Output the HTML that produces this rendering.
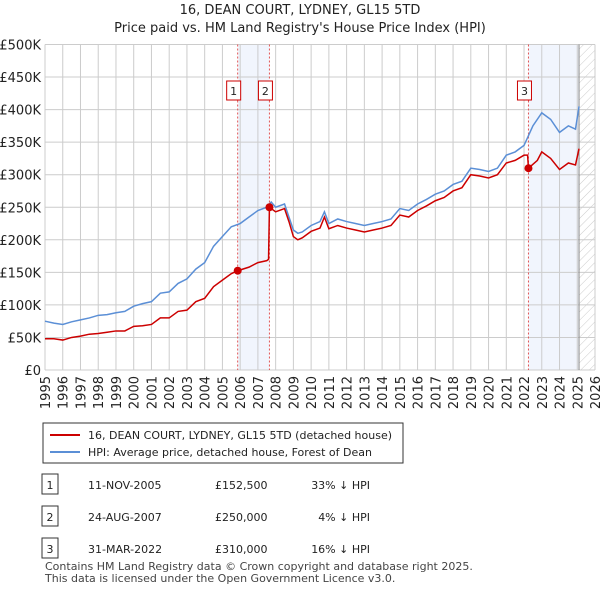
<!DOCTYPE html>
<html><head><meta charset="utf-8"><style>
body{margin:0;background:#fff;font-family:"Liberation Sans",sans-serif;}
svg text{font-family:"DejaVu Sans","Liberation Sans",sans-serif;}
</style></head><body>
<svg id="c" width="600" height="590" viewBox="0 0 600 590" xmlns="http://www.w3.org/2000/svg">
<text x="300" y="14" text-anchor="middle" font-size="13" fill="#222">16, DEAN COURT, LYDNEY, GL15 5TD</text>
<text x="300" y="32" text-anchor="middle" font-size="13" fill="#222">Price paid vs. HM Land Registry's House Price Index (HPI)</text>
<defs><pattern id="h" width="6" height="6" patternUnits="userSpaceOnUse" patternTransform="rotate(45)"><line x1="0" y1="0" x2="0" y2="6" stroke="#ccc" stroke-width="1"/></pattern></defs>
<g id="plot"></g>
<g>
<rect x="43" y="423" width="360" height="40" fill="#fff" stroke="#333" stroke-width="1"/>
<line x1="50" y1="435" x2="80" y2="435" stroke="#cc0000" stroke-width="2"/>
<text x="88" y="439" font-size="11" fill="#222">16, DEAN COURT, LYDNEY, GL15 5TD (detached house)</text>
<line x1="50" y1="452" x2="80" y2="452" stroke="#5b8fd6" stroke-width="2"/>
<text x="88" y="456" font-size="11" fill="#222">HPI: Average price, detached house, Forest of Dean</text>
</g>
<g id="tbl" font-size="11" fill="#222"></g>
<text x="45" y="570" font-size="11" fill="#444">Contains HM Land Registry data © Crown copyright and database right 2025.</text>
<text x="45" y="582" font-size="11" fill="#444">This data is licensed under the Open Government Licence v3.0.</text>
</svg>
<script>
const hpiYears=[1995,1995.5,1996,1996.5,1997,1997.5,1998,1998.5,1999,1999.5,2000,2000.5,2001,2001.5,2002,2002.5,2003,2003.5,2004,2004.5,2005,2005.5,2006,2006.5,2007,2007.5,2007.75,2008,2008.5,2008.75,2009,2009.25,2009.5,2010,2010.5,2010.75,2011,2011.5,2012,2012.5,2013,2013.5,2014,2014.5,2015,2015.5,2016,2016.5,2017,2017.5,2018,2018.5,2019,2019.5,2020,2020.5,2021,2021.5,2022,2022.5,2023,2023.5,2024,2024.5,2024.9,2025.1];
const hpiValues=[75,72,70,74,77,80,84,85,88,90,98,102,105,118,120,133,140,155,165,190,205,220,225,235,245,250,258,250,255,235,215,210,212,222,228,243,225,232,228,225,222,225,228,232,248,245,255,262,270,275,285,290,310,308,305,310,330,335,345,375,395,385,365,375,370,405];
const redYears=[1995,1995.5,1996,1996.5,1997,1997.5,1998,1998.5,1999,1999.5,2000,2000.5,2001,2001.5,2002,2002.5,2003,2003.5,2004,2004.5,2005,2005.5,2005.86,2006.5,2007,2007.5,2007.6,2007.65,2008,2008.5,2008.75,2009,2009.25,2009.5,2010,2010.5,2010.75,2011,2011.5,2012,2012.5,2013,2013.5,2014,2014.5,2015,2015.5,2016,2016.5,2017,2017.5,2018,2018.5,2019,2019.5,2020,2020.5,2021,2021.5,2022,2022.2,2022.25,2022.75,2023,2023.5,2024,2024.5,2024.9,2025.1];
const redValues=[48,48,46,50,52,55,56,58,60,60,67,68,70,80,80,90,92,105,110,128,138,148,152.5,158,165,168,170,250,243,248,228,205,200,203,213,218,235,217,222,218,215,212,215,218,222,238,235,245,252,260,265,275,280,300,298,295,300,318,322,330,330,310,322,335,325,308,318,315,340];
const saleYears=[2005.86,2007.65,2022.25];
const saleValues=[152.5,250,310];
const saleLabels=["1","2","3"];
const saleDates=["11-NOV-2005","24-AUG-2007","31-MAR-2022"];
const salePrices=["£152,500","£250,000","£310,000"];
const saleDiffs=["33% ↓ HPI","4% ↓ HPI","16% ↓ HPI"];
const yTicks=[0,50,100,150,200,250,300,350,400,450,500];
const yTickLabels=["£0","£50K","£100K","£150K","£200K","£250K","£300K","£350K","£400K","£450K","£500K"];
const xTicks=[1995,1996,1997,1998,1999,2000,2001,2002,2003,2004,2005,2006,2007,2008,2009,2010,2011,2012,2013,2014,2015,2016,2017,2018,2019,2020,2021,2022,2023,2024,2025,2026];
const X0=45,X1=595,Y0=370,Y1=44.5;
const xs=y=>X0+(y-1995)/(2026-1995)*(X1-X0);
const ys=v=>Y0-v/500*(Y0-Y1);
const NS="http://www.w3.org/2000/svg";
const plot=document.getElementById('plot');
function mk(t,a,p){const e=document.createElementNS(NS,t);for(const k in a)e.setAttribute(k,a[k]);(p||plot).appendChild(e);return e;}
let r=mk('rect',{x:xs(saleYears[0]),y:Y1,width:xs(saleYears[1])-xs(saleYears[0]),height:Y0-Y1,fill:'#eef3fc',opacity:0.8});


r=mk('rect',{x:xs(saleYears[2]),y:Y1,width:xs(2025.1)-xs(saleYears[2]),height:Y0-Y1,fill:'#eef3fc',opacity:0.8});


r=mk('rect',{x:xs(2025.1),y:Y1,width:X1-xs(2025.1),height:Y0-Y1,fill:'url(#h)'});


yTicks.forEach((v,i)=>{
 let l=mk('line',{x1:X0,x2:X1,y1:ys(v),y2:ys(v),stroke:'#ccc','stroke-width':1});
 
 
 let t=mk('text',{x:X0-4,y:ys(v)+5,'text-anchor':'end','font-size':13,fill:'#222'});
 t.textContent=yTickLabels[i];
 
 
});
xTicks.forEach(yr=>{
 let l=mk('line',{x1:xs(yr),x2:xs(yr),y1:Y1,y2:Y0,stroke:'#ccc','stroke-width':1});
 
 
 let t=mk('text',{x:0,y:0,'text-anchor':'end','font-size':13,fill:'#222',transform:`translate(${xs(yr)+5},${Y0+6}) rotate(-90)`});
 t.textContent=yr;
 
 
});
let ax=mk('line',{x1:xs(2025.1),x2:xs(2025.1),y1:Y1,y2:Y0,stroke:'#888','stroke-width':1});


saleYears.forEach((yr,i)=>{
 let l=mk('line',{x1:xs(yr),x2:xs(yr),y1:Y1,y2:Y0,stroke:'#e05555','stroke-width':1,'stroke-dasharray':'2,2'});
 
 
});
let p=mk('polyline',{points:hpiYears.map((y,i)=>xs(y)+','+ys(hpiValues[i])).join(' '),fill:'none',stroke:'#5b8fd6','stroke-width':1.5});


p=mk('polyline',{points:redYears.map((y,i)=>xs(y)+','+ys(redValues[i])).join(' '),fill:'none',stroke:'#cc0000','stroke-width':1.5});


saleYears.forEach((yr,i)=>{
 let c=mk('circle',{cx:xs(yr),cy:ys(saleValues[i]),r:4,fill:'#cc0000'});
 
 
 let bx=xs(yr)-(i==2?11:10)-(i==2?-2:0);
 let b=mk('rect',{x:xs(yr)-(i<2?3:0)-11+ (i==1?0:0),y:81,width:14,height:19,fill:'#fff',stroke:'#cc0000','stroke-width':1});
 if(i==0)b.setAttribute('x',xs(yr)-11);
 if(i==1)b.setAttribute('x',xs(yr)-11);
 if(i==2)b.setAttribute('x',xs(yr)-11);
 
 
 let t=mk('text',{x:parseFloat(b.getAttribute('x'))+7,y:95,'text-anchor':'middle','font-size':11,fill:'#222'});
 t.textContent=saleLabels[i];
 
 
});
const tbl=document.getElementById('tbl');
saleLabels.forEach((lab,i)=>{
 const y=485+i*32;
 let b=mk('rect',{x:42,y:y-11,width:16,height:20,fill:'#fff',stroke:'#333','stroke-width':1},tbl);
 
 
 const cells=[[50,lab,'middle'],[88,saleDates[i],'start'],[215,salePrices[i],'start'],[370,saleDiffs[i],'end']];
 cells.forEach(c=>{
  let t=mk('text',{x:c[0],y:y+4,'text-anchor':c[2],'font-size':11,fill:'#222'},tbl);
  t.textContent=c[1];
  
  
 });
});
</script>
</body></html>
